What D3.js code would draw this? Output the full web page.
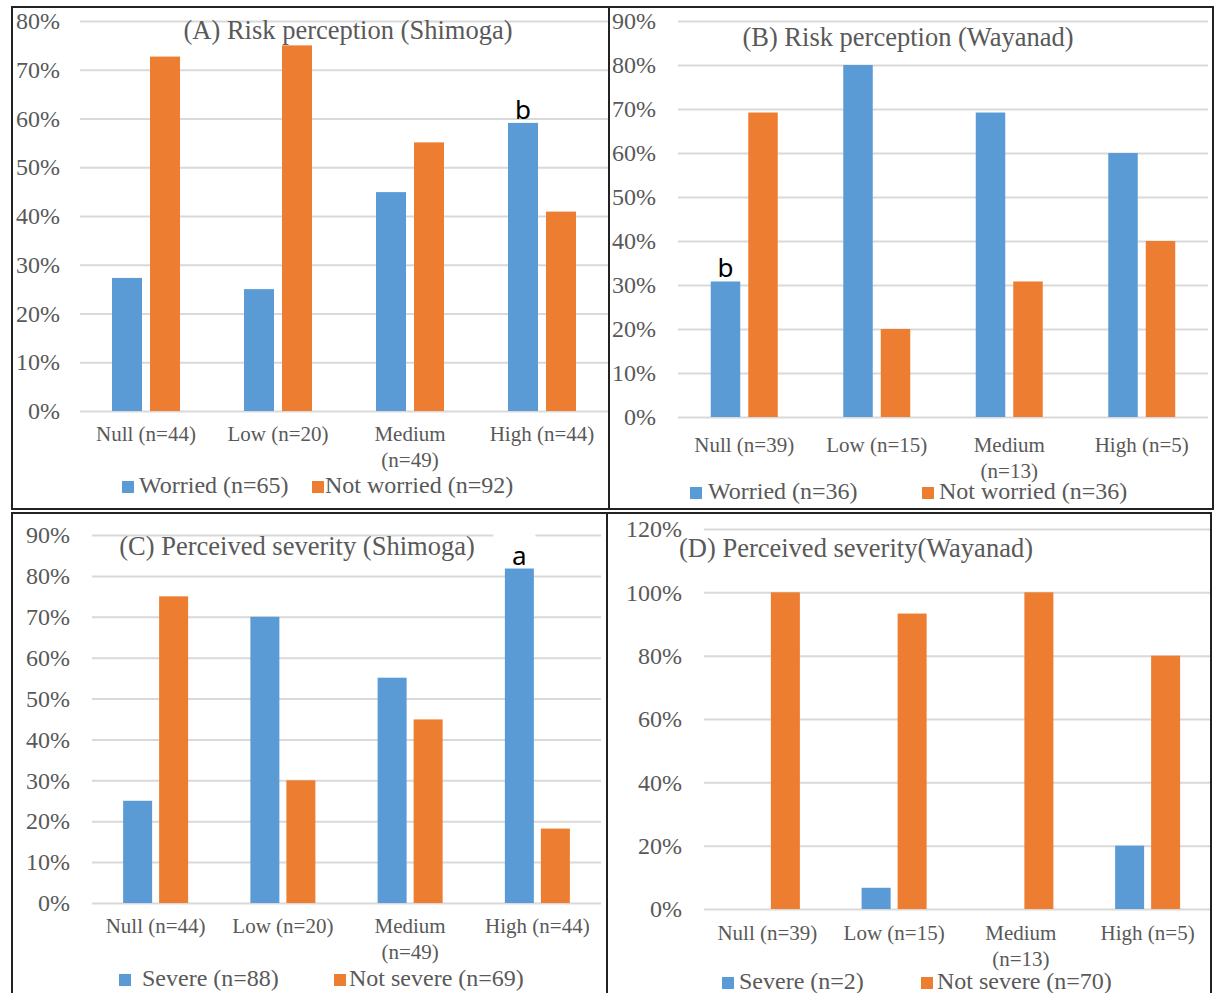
<!DOCTYPE html>
<html>
<head>
<meta charset="utf-8">
<script src="https://cdn.jsdelivr.net/npm/d3@7"></script>
<style>
  body { margin: 0; background: #fff; }
  svg text { font-family: "Liberation Serif", "Times New Roman", serif; fill: #595959; }
</style>
</head>
<body>
<div id="chart"></div>
<script>
// categories per site
const catsShimoga = ["Null (n=44)", "Low (n=20)", "Medium (n=49)", "High (n=44)"];
const catsWayanad = ["Null (n=39)", "Low (n=15)", "Medium (n=13)", "High (n=5)"];

// (A) risk perception Shimoga
const worriedA = [27.3, 25.0, 44.9, 59.1];
const notWorriedA = [72.7, 75.0, 55.1, 40.9];
// (B) risk perception Wayanad
const worriedB = [30.8, 80.0, 69.2, 60.0];
const notWorriedB = [69.2, 20.0, 30.8, 40.0];
// (C) perceived severity Shimoga
const severeC = [25.0, 70.0, 55.1, 81.8];
const notSevereC = [75.0, 30.0, 44.9, 18.2];
// (D) perceived severity Wayanad
const severeD = [0, 6.7, 0, 20.0];
const notSevereD = [100, 93.3, 100, 80.0];

// tick labels
const ticksA = [0, 10, 20, 30, 40, 50, 60, 70, 80];
const ticksB = [0, 10, 20, 30, 40, 50, 60, 70, 80, 90];
const ticksC = [0, 10, 20, 30, 40, 50, 60, 70, 80, 90];
const ticksD = [0, 20, 40, 60, 80, 100, 120];

// legend labels
const legendA = ["Worried (n=65)", "Not worried (n=92)"];
const legendB = ["Worried (n=36)", "Not worried (n=36)"];
const legendC = ["Severe (n=88)", "Not severe (n=69)"];
const legendD = ["Severe (n=2)", "Not severe (n=70)"];

// significance letters
const notesA = [{cat: 3, series: 0, label: "b"}];
const notesB = [{cat: 0, series: 0, label: "b"}];
const notesC = [{cat: 3, series: 0, label: "a", box: true}];
const notesD = [];

const colors = ["#5B9BD5", "#ED7D31"];
const serif = "'Liberation Serif', 'Times New Roman', serif";

const svg = d3.select("#chart").append("svg")
  .attr("width", 1217)
  .attr("height", 993);

function drawPanel(p) {
  const g = svg.append("g");

  const x0 = d3.scaleBand().domain(d3.range(p.cats.length)).range([p.left, p.right]);
  const bw = x0.bandwidth();
  const x1 = d3.scaleBand().domain([0, 1])
    .range([(bw - p.groupW) / 2, (bw + p.groupW) / 2])
    .paddingInner(p.gap / ((p.groupW + p.gap) / 2));
  const y = d3.scaleLinear().domain([0, p.ymax]).range([p.bottom, p.top]);

  // gridlines + y labels
  const ax = g.append("g")
    .attr("transform", `translate(${p.left},0)`)
    .call(d3.axisLeft(y).tickValues(p.ticks)
      .tickSize(-(p.right - p.left))
      .tickPadding(p.left - p.labelX)
      .tickFormat(d => d + "%"));
  ax.select(".domain").remove();
  ax.selectAll("line").attr("stroke", "#D9D9D9").attr("stroke-width", 2);
  ax.selectAll("text")
    .style("font-family", serif)
    .style("font-size", "24px")
    .style("fill", "#595959");

  // bars
  const series = p.values;
  series.forEach((vals, s) => {
    g.selectAll(null)
      .data(vals)
      .enter()
      .append("rect")
      .attr("x", (d, i) => x0(i) + x1(s))
      .attr("y", d => y(d))
      .attr("width", x1.bandwidth())
      .attr("height", d => y(0) - y(d))
      .attr("fill", colors[s]);
  });

  // letters above bars (the Excel text box hides a bit of gridline)
  p.notes.forEach(d => {
    const cx = x0(d.cat) + x1(d.series) + x1.bandwidth() / 2;
    const ty = y(series[d.series][d.cat]) - 4;
    if (d.box) {
      g.append("rect")
        .attr("x", cx - 26).attr("y", ty - 35)
        .attr("width", 42).attr("height", 20)
        .attr("fill", "#fff");
    }
    g.append("text")
      .attr("x", cx)
      .attr("y", ty)
      .attr("text-anchor", "middle")
      .style("font-size", "26px")
      .style("font-family", "'Noto Sans', sans-serif")
      .style("fill", "#000")
      .text(d.label);
  });

  // category labels, wrapped when too wide
  p.cats.forEach((c, i) => {
    const t = g.append("text")
      .attr("x", x0(i) + bw / 2)
      .attr("y", p.xLabelY)
      .attr("text-anchor", "middle")
      .attr("dominant-baseline", "middle")
      .style("font-size", "21px")
      .text(c);
    if (t.node().getComputedTextLength() > 112) {
      const k = c.lastIndexOf(" ");
      t.text(null);
      t.append("tspan").attr("x", x0(i) + bw / 2).text(c.slice(0, k));
      t.append("tspan").attr("x", x0(i) + bw / 2).attr("dy", 26).text(c.slice(k + 1));
    }
  });

  // title
  g.append("text")
    .attr("x", p.titleX)
    .attr("y", p.titleY)
    .attr("text-anchor", p.titleAnchor)
    .attr("dominant-baseline", "middle")
    .style("font-size", "26.5px")
    .text(p.title);

  // legend
  p.legend.forEach((lab, s) => {
    g.append("rect")
      .attr("x", p.legendX[s])
      .attr("y", p.legendY - 6)
      .attr("width", 12)
      .attr("height", 12)
      .attr("fill", colors[s]);
    g.append("text")
      .attr("x", p.legendTextX[s])
      .attr("y", p.legendY)
      .attr("dominant-baseline", "middle")
      .style("font-size", "24px")
      .text(lab);
  });

  // frame
  g.append("rect")
    .attr("x", p.box[0])
    .attr("y", p.box[1])
    .attr("width", p.box[2] - p.box[0])
    .attr("height", p.box[3] - p.box[1])
    .attr("fill", "none")
    .attr("stroke", "#222")
    .attr("stroke-width", 2);
}

drawPanel({
  cats: catsShimoga, values: [worriedA, notWorriedA], ticks: ticksA, ymax: 80,
  notes: notesA, legend: legendA, title: "(A) Risk perception (Shimoga)",
  box: [12, 7, 609, 509], left: 80, right: 608, top: 21, bottom: 411, labelX: 60,
  groupW: 68, gap: 8, xLabelY: 436, titleX: 348, titleY: 33, titleAnchor: "middle",
  legendY: 487, legendX: [122, 312], legendTextX: [139, 325]
});

drawPanel({
  cats: catsWayanad, values: [worriedB, notWorriedB], ticks: ticksB, ymax: 90,
  notes: notesB, legend: legendB, title: "(B) Risk perception (Wayanad)",
  box: [609, 7, 1213, 509], left: 678, right: 1208, top: 21, bottom: 417, labelX: 656,
  groupW: 67, gap: 8, xLabelY: 447, titleX: 908, titleY: 40, titleAnchor: "middle",
  legendY: 493, legendX: [690, 922], legendTextX: [708, 939]
});

drawPanel({
  cats: catsShimoga, values: [severeC, notSevereC], ticks: ticksC, ymax: 90,
  notes: notesC, legend: legendC, title: "(C) Perceived severity (Shimoga)",
  box: [12, 513, 607, 1005], left: 92, right: 601, top: 535, bottom: 903, labelX: 70,
  groupW: 65, gap: 7, xLabelY: 928, titleX: 297, titleY: 549, titleAnchor: "middle",
  legendY: 980, legendX: [119, 334], legendTextX: [142, 349]
});

drawPanel({
  cats: catsWayanad, values: [severeD, notSevereD], ticks: ticksD, ymax: 120,
  notes: notesD, legend: legendD, title: "(D) Perceived severity(Wayanad)",
  box: [607, 513, 1211, 1005], left: 704, right: 1211, top: 529, bottom: 909, labelX: 682,
  groupW: 65, gap: 7, xLabelY: 935, titleX: 679, titleY: 551, titleAnchor: "start",
  legendY: 983, legendX: [722, 921], legendTextX: [739, 937]
});
</script>
</body>
</html>
